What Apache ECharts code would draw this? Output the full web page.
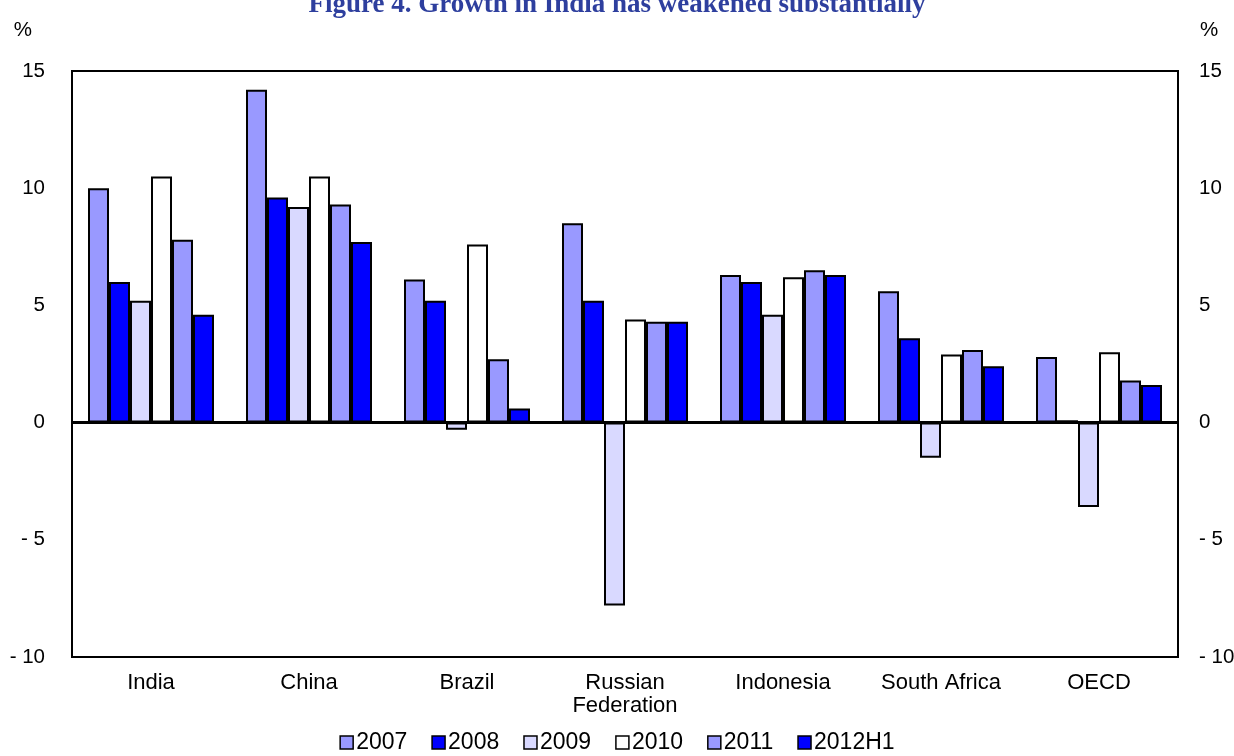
<!DOCTYPE html>
<html><head><meta charset="utf-8">
<script src="https://cdn.jsdelivr.net/npm/echarts@6/dist/echarts.min.js"></script>
<style>html,body{margin:0;padding:0;background:#fff}#c{width:1234px;height:756px}</style>
</head><body><div id="c"></div>
<script>
const categories = ['India', 'China', 'Brazil', 'Russian\nFederation', 'Indonesia', 'South Africa', 'OECD'];
const seriesNames = ['2007', '2008', '2009', '2010', '2011', '2012H1'];
const v2007 = [10.0, 14.2, 6.1, 8.5, 6.3, 5.6, 2.8];
const v2008 = [6.0, 9.6, 5.2, 5.2, 6.0, 3.6, 0.1];
const v2009 = [5.2, 9.2, -0.3, -7.8, 4.6, -1.5, -3.6];
const v2010 = [10.5, 10.5, 7.6, 4.4, 6.2, 2.9, 3.0];
const v2011 = [7.8, 9.3, 2.7, 4.3, 6.5, 3.1, 1.8];
const v2012H1 = [4.6, 7.7, 0.6, 4.3, 6.3, 2.4, 1.6];
const yTicks = {min: -10, max: 15, interval: 5};

const values = [v2007, v2008, v2009, v2010, v2011, v2012H1];
const colors = ['#9999ff', '#0000ff', '#d9d9ff', '#ffffff', '#9999ff', '#0000ff'];
const fmt = v => v < 0 ? '- ' + Math.abs(v) : String(v);
const font = '"Liberation Sans", Arial, sans-serif';
const fs = 20.5;

const chart = echarts.init(document.getElementById('c'));
const series = values.map((d, i) => ({
  name: seriesNames[i], type: 'bar', data: d, barWidth: 21, barGap: '0%',
  itemStyle: {color: colors[i], borderColor: '#000', borderWidth: 2},
  silent: true
}));
series[0].markLine = {
  silent: true, symbol: ['none', 'none'], label: {show: false},
  lineStyle: {color: '#000', width: 3, type: 'solid'},
  data: [{yAxis: 0}]
};
chart.setOption({
  animation: false,
  title: {
    text: 'Figure 4. Growth in India has weakened substantially',
    left: 'center', top: -13,
    textStyle: {fontFamily: 'Liberation Serif, Times New Roman, serif', fontWeight: 'bold', fontSize: 27, color: '#2e3f9e'}
  },
  legend: {
    bottom: -3, left: 'center', itemWidth: 13, itemHeight: 13, itemGap: 24,
    icon: 'rect',
    textStyle: {fontFamily: font, fontSize: 23, color: '#000', padding: [0, 0, 0, -2]},
    data: seriesNames.map((n, i) => ({name: n, itemStyle: {color: colors[i], borderColor: '#000', borderWidth: 1.5}}))
  },
  grid: {left: 72, right: 56, top: 71, bottom: 99, outerBoundsMode: 'none', containLabel: false,
         show: true, borderColor: '#000', borderWidth: 2, backgroundColor: 'transparent'},
  xAxis: {
    type: 'category', data: categories, position: 'bottom',
    axisLine: {show: false, onZero: false}, axisTick: {show: false},
    axisLabel: {interval: 0, fontFamily: font, fontSize: 22, color: '#000', margin: 14, lineHeight: 23}
  },
  yAxis: [
    {type: 'value', min: yTicks.min, max: yTicks.max, interval: yTicks.interval, position: 'left',
     name: '%', nameLocation: 'end', nameGap: 30, nameTextStyle: {fontFamily: font, fontSize: fs, color: '#000', align: 'right', padding: [0, 40, 0, 0]},
     axisLine: {show: false}, axisTick: {show: false}, splitLine: {show: false},
     axisLabel: {formatter: fmt, fontFamily: font, fontSize: fs, color: '#000', margin: 27}},
    {type: 'value', min: yTicks.min, max: yTicks.max, interval: yTicks.interval, position: 'right',
     name: '%', nameLocation: 'end', nameGap: 30, nameTextStyle: {fontFamily: font, fontSize: fs, color: '#000', align: 'left', padding: [0, 0, 0, 22]},
     axisLine: {show: false}, axisTick: {show: false}, splitLine: {show: false},
     axisLabel: {formatter: fmt, fontFamily: font, fontSize: fs, color: '#000', margin: 21}}
  ],
  series: series
});
</script></body></html>
